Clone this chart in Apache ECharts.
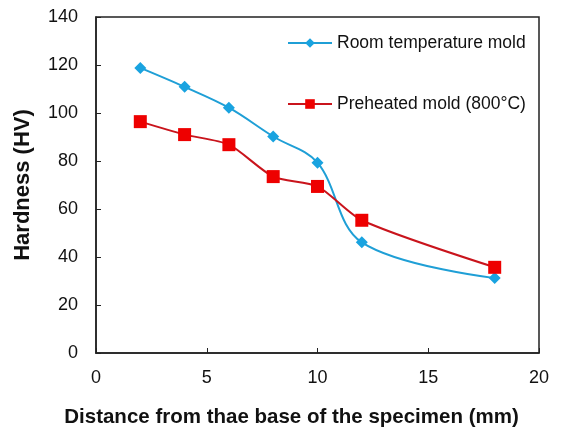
<!DOCTYPE html>
<html>
<head>
<meta charset="utf-8">
<script src="https://cdn.jsdelivr.net/npm/echarts@6/dist/echarts.min.js"></script>
<style>
  html, body { margin: 0; padding: 0; background: #fff; }
  #main { width: 566px; height: 427px; }
</style>
</head>
<body>
<div id="main"></div>
<script>
// 数据
var distance = [2, 4, 6, 8, 10, 12, 18];
var roomTemp = [118.8, 110.9, 102.2, 90.2, 79.3, 46.1, 31.2];
var preheated = [96.4, 91, 86.8, 73.5, 69.4, 55.3, 35.7];
var seriesNames = ['Room temperature mold', 'Preheated mold (800°C)'];

function pairs(xs, ys) {
  return xs.map(function (x, i) { return [x, ys[i]]; });
}

var myChart = echarts.init(document.getElementById('main'));
var option = {
  animation: false,
  textStyle: { fontFamily: 'Liberation Sans, Arial, sans-serif' },
  grid: { left: 96, top: 17, right: 27, bottom: 74, outerBoundsMode: 'none', containLabel: false },
  legend: {
    orient: 'vertical',
    left: 282,
    top: 29,
    itemWidth: 44,
    itemHeight: 12,
    itemGap: 43,
    textStyle: { fontSize: 17.5, color: '#111' },
    data: seriesNames
  },
  xAxis: {
    type: 'value',
    min: 0, max: 20, interval: 5,
    name: 'Distance from thae base of the specimen (mm)',
    nameLocation: 'middle',
    nameGap: 54,
    nameTextStyle: { fontSize: 20.5, fontWeight: 'bold', color: '#111', padding: [0, 52, 0, 0] },
    axisLine: { lineStyle: { color: '#222', width: 1.5 } },
    axisTick: { inside: true, length: 5, lineStyle: { color: '#222' } },
    axisLabel: { fontSize: 18, color: '#111', margin: 16 },
    splitLine: { show: false }
  },
  yAxis: {
    type: 'value',
    min: 0, max: 140, interval: 20,
    name: 'Hardness (HV)',
    nameLocation: 'middle',
    nameGap: 62,
    nameTextStyle: { fontSize: 22, fontWeight: 'bold', color: '#111' },
    axisLine: { show: true, lineStyle: { color: '#222', width: 1.5 } },
    axisTick: { show: true, inside: true, length: 5, lineStyle: { color: '#222' } },
    axisLabel: { fontSize: 18, color: '#111', margin: 18 },
    splitLine: { show: false }
  },
  series: [
    {
      name: seriesNames[0],
      type: 'line',
      smooth: 0.35,
      data: pairs(distance, roomTemp),
      symbol: 'diamond',
      symbolSize: 12,
      lineStyle: { color: '#1f9fd6', width: 2 },
      itemStyle: { color: '#19a3e0' }
    },
    {
      name: seriesNames[1],
      type: 'line',
      smooth: 0.25,
      data: pairs(distance, preheated),
      symbol: 'rect',
      symbolSize: 13,
      lineStyle: { color: '#c9141c', width: 2 },
      itemStyle: { color: '#ee0000' }
    }
  ],
  // 右侧和顶部边框
  graphic: [
    {
      type: 'rect',
      shape: { x: 96, y: 17, width: 443, height: 336 },
      style: { fill: 'none', stroke: '#222', lineWidth: 1.5 },
      silent: true,
      z: -1
    }
  ]
};
myChart.setOption(option);
</script>
</body>
</html>
